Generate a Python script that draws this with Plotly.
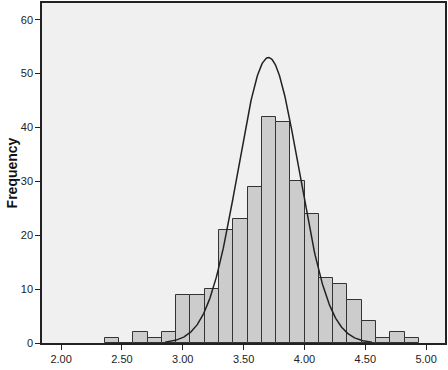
import numpy as np
import plotly.graph_objects as go

# Histogram data
bin_start = 2.359
bin_width = 0.1173
counts = [1, 0, 2, 1, 2, 9, 9, 10, 21, 23, 29, 42, 41, 30, 24, 12, 11, 8, 4, 1, 2, 1]

# Normal curve parameters
mean = 3.704
sd = 0.250
n_total = sum(counts)

x_ticks = [2.0, 2.5, 3.0, 3.5, 4.0, 4.5, 5.0]
x_tick_labels = ["2.00", "2.50", "3.00", "3.50", "4.00", "4.50", "5.00"]
y_ticks = [0, 10, 20, 30, 40, 50, 60]

centers = [bin_start + bin_width * (i + 0.5) for i in range(len(counts))]

xc = np.linspace(mean - 3.4 * sd, mean + 3.4 * sd, 300)
yc = n_total * bin_width / (sd * np.sqrt(2 * np.pi)) * np.exp(-0.5 * ((xc - mean) / sd) ** 2)

fig = go.Figure()
fig.add_trace(go.Bar(
    x=centers, y=counts, width=bin_width,
    marker=dict(color="#cccccc", line=dict(color="#333333", width=1)),
    showlegend=False, hoverinfo="skip",
))
fig.add_trace(go.Scatter(
    x=xc, y=yc, mode="lines",
    line=dict(color="#222222", width=1.5),
    showlegend=False, hoverinfo="skip",
))

fig.update_layout(
    width=448, height=370,
    margin=dict(l=42, r=2, t=1, b=27),
    paper_bgcolor="white",
    plot_bgcolor="#f0f0f0",
    bargap=0,
    font=dict(family="Liberation Sans, Arial, sans-serif", size=11, color="#222222"),
    xaxis=dict(
        range=[1.843, 5.155],
        tickvals=x_ticks, ticktext=x_tick_labels,
        ticks="outside", ticklen=5, tickcolor="#222222",
        showgrid=False, zeroline=False,
        showline=True, linecolor="#222222", linewidth=1.5, mirror=True,
    ),
    yaxis=dict(
        range=[0, 63.1],
        tickvals=y_ticks,
        ticks="outside", ticklen=5, tickcolor="#222222",
        showgrid=False, zeroline=False,
        showline=True, linecolor="#222222", linewidth=1.5, mirror=True,
        title=dict(text="<b>Frequency</b>", font=dict(size=14, color="#111111"), standoff=0),
    ),
)

fig.write_html(
    "out.html",
    config={"displayModeBar": False},
    post_script="document.body.style.margin='0';document.body.style.padding='0';",
)
